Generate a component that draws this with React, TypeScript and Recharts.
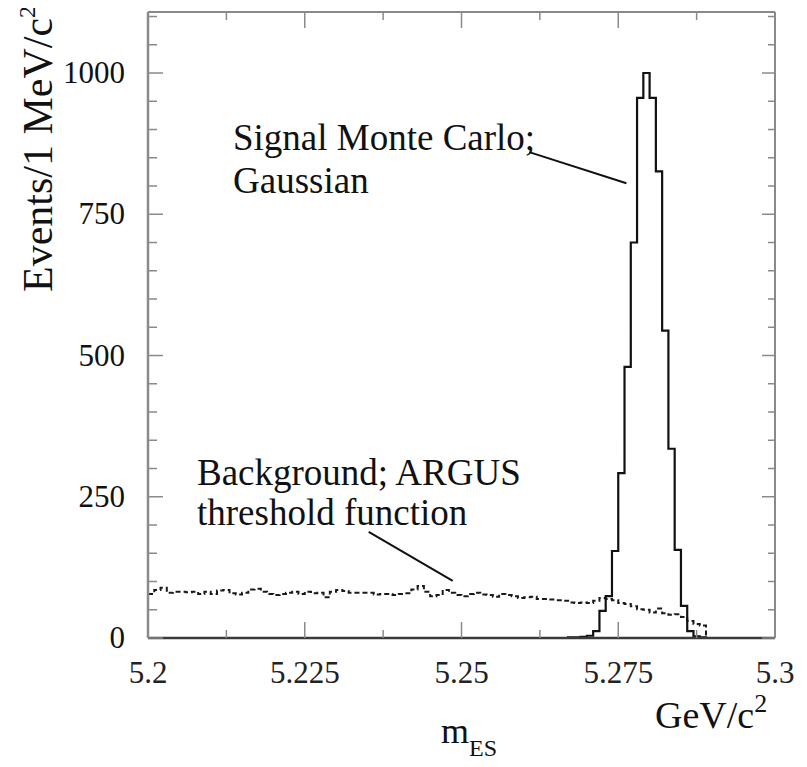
import React from "react";
import { ComposedChart, Line, XAxis, YAxis, ReferenceLine } from "recharts";

// ---- data ----
const X_MIN = 5.2;
const BIN_WIDTH = 0.001;
const N_BINS = 100;

// Signal Monte Carlo (Gaussian) counts, starting at bin index SIGNAL_START
const SIGNAL_START = 66;
const signalCounts = [0, 1, 1, 2, 4, 12, 48, 74, 154, 292, 480, 700, 956, 1000, 956, 826, 544, 335, 156, 57, 12, 3, 1, 0];

// Background (ARGUS threshold) counts, from bin 0 up to the endpoint
const backgroundCounts = [
  78, 85, 89, 80, 82, 82, 81, 82, 78, 82,
  78, 84, 85, 79, 77, 80, 86, 87, 82, 78,
  76, 78, 80, 82, 78, 82, 79, 80, 72, 82,
  85, 83, 80, 80, 80, 80, 77, 78, 78, 76,
  78, 79, 86, 92, 82, 74, 76, 85, 80, 76,
  74, 78, 80, 77, 76, 73, 78, 76, 74, 71,
  72, 73, 69, 69, 68, 67, 66, 63, 62, 63,
  62, 66, 71, 69, 67, 62, 60, 56, 51, 50,
  45, 52, 44, 41, 42, 37, 30, 25, 22,
];

const xMajorTicks = [5.2, 5.225, 5.25, 5.275, 5.3];
const xTickLabels = ["5.2", "5.225", "5.25", "5.275", "5.3"];
const xMinorTicks = [5.2125, 5.2375, 5.2625, 5.2875];
const yMajorTicks = [0, 250, 500, 750, 1000];
const yTickLabels = ["0", "250", "500", "750", "1000"];
const yMinorTicks = [50, 100, 150, 200, 300, 350, 400, 450, 550, 600, 650, 700, 800, 850, 900, 950, 1050, 1100];

const Y_MAX = 1108;

const rows: { x: number; sig: number; bg: number | null }[] = [];
for (let k = 0; k <= N_BINS; k++) {
  const x = Number((X_MIN + k * BIN_WIDTH).toFixed(4));
  const si = Math.min(k, N_BINS - 1) - SIGNAL_START;
  const sig = si >= 0 && si < signalCounts.length ? signalCounts[si] : 0;
  let bg: number | null = null;
  if (k < backgroundCounts.length) bg = backgroundCounts[k];
  else if (k === backgroundCounts.length) bg = 0;
  rows.push({ x, sig, bg });
}

const allXTicks = [...xMajorTicks, ...xMinorTicks].sort((a, b) => a - b);
const allYTicks = [...yMajorTicks, ...yMinorTicks].sort((a, b) => a - b);

const FONT = "'Liberation Serif', 'Times New Roman', serif";
const TICK_COLOR = "#8a8a8a";

const majorXIndex = (v: number) => xMajorTicks.findIndex((t) => Math.abs(t - v) < 1e-6);
const majorYIndex = (v: number) => yMajorTicks.findIndex((t) => Math.abs(t - v) < 1e-6);

const BottomTick = (props: any) => {
  const { x, y, payload } = props;
  const i = majorXIndex(payload.value);
  const len = i >= 0 ? 16 : 8;
  return (
    <g>
      <line x1={x} y1={y} x2={x} y2={y - len} stroke={TICK_COLOR} strokeWidth={1.5} />
      {i >= 0 && (
        <text x={x} y={y + 45} textAnchor="middle" style={{ fontFamily: FONT }} fontSize={31} fill="#222">
          {xTickLabels[i]}
        </text>
      )}
    </g>
  );
};

const TopTick = (props: any) => {
  const { x, y, payload } = props;
  const i = majorXIndex(payload.value);
  const len = i >= 0 ? 16 : 8;
  return <line x1={x} y1={y} x2={x} y2={y + len} stroke={TICK_COLOR} strokeWidth={1.5} />;
};

const LeftTick = (props: any) => {
  const { x, y, payload } = props;
  const i = majorYIndex(payload.value);
  const len = i >= 0 ? 15 : 9;
  return (
    <g>
      <line x1={x} y1={y} x2={x + len} y2={y} stroke={TICK_COLOR} strokeWidth={1.5} />
      {i >= 0 && (
        <text x={x - 23} y={y + 10} textAnchor="end" style={{ fontFamily: FONT }} fontSize={31} fill="#111">
          {yTickLabels[i]}
        </text>
      )}
    </g>
  );
};

const RightTick = (props: any) => {
  const { x, y, payload } = props;
  const i = majorYIndex(payload.value);
  const len = i >= 0 ? 13 : 7;
  return <line x1={x} y1={y} x2={x - len} y2={y} stroke={TICK_COLOR} strokeWidth={1.5} />;
};

export default function App() {
  const W = 799;
  const H = 751;
  return (
    <div style={{ position: "relative", width: W, height: H }}>
      <ComposedChart
        width={W}
        height={H}
        data={rows}
        margin={{ top: 3, right: 22, bottom: 71, left: 40 }}
      >
        <XAxis
          xAxisId="b"
          dataKey="x"
          type="number"
          domain={[5.2, 5.3]}
          allowDataOverflow
          ticks={allXTicks}
          interval={0}
          tick={<BottomTick />}
          tickLine={false}
          tickSize={0}
          tickMargin={0}
          height={50}
          axisLine={{ stroke: "#3a3a3a", strokeWidth: 2.5 }}
        />
        <XAxis
          xAxisId="t"
          orientation="top"
          dataKey="x"
          type="number"
          domain={[5.2, 5.3]}
          allowDataOverflow
          ticks={allXTicks}
          interval={0}
          tick={<TopTick />}
          tickLine={false}
          tickSize={0}
          tickMargin={0}
          height={1}
          axisLine={{ stroke: "#8a8a8a", strokeWidth: 2 }}
        />
        <YAxis
          yAxisId="l"
          type="number"
          domain={[0, Y_MAX]}
          allowDataOverflow
          ticks={allYTicks}
          interval={0}
          tick={<LeftTick />}
          tickLine={false}
          tickSize={0}
          tickMargin={0}
          width={100}
          axisLine={{ stroke: "#8a8a8a", strokeWidth: 2.5 }}
        />
        <YAxis
          yAxisId="r"
          orientation="right"
          type="number"
          domain={[0, Y_MAX]}
          allowDataOverflow
          ticks={allYTicks}
          interval={0}
          tick={<RightTick />}
          tickLine={false}
          tickSize={0}
          tickMargin={0}
          width={10}
          axisLine={{ stroke: "#8a8a8a", strokeWidth: 2 }}
        />
        <Line
          xAxisId="b"
          yAxisId="l"
          dataKey="bg"
          type="stepAfter"
          stroke="#1a1a1a"
          strokeWidth={2}
          strokeDasharray="5 3"
          dot={false}
          connectNulls={false}
          isAnimationActive={false}
        />
        <Line
          xAxisId="b"
          yAxisId="l"
          dataKey="sig"
          type="stepAfter"
          stroke="#111"
          strokeWidth={2.2}
          dot={false}
          isAnimationActive={false}
        />
        <ReferenceLine
          xAxisId="b"
          yAxisId="l"
          segment={[{ x: 5.2608, y: 860 }, { x: 5.2763, y: 805 }]}
          stroke="#111"
          strokeWidth={2}
          ifOverflow="visible"
        />
        <ReferenceLine
          xAxisId="b"
          yAxisId="l"
          segment={[{ x: 5.2352, y: 188 }, { x: 5.2486, y: 101 }]}
          stroke="#111"
          strokeWidth={2}
          ifOverflow="visible"
        />
      </ComposedChart>
      <svg
        width={W}
        height={759}
        style={{ position: "absolute", left: 0, top: 0, pointerEvents: "none", overflow: "visible" }}
      >
        <g style={{ fontFamily: FONT }} fill="#111">
          <text x={225} y={142} fontSize={37}>Signal Monte Carlo;</text>
          <text x={225} y={185} fontSize={37}>Gaussian</text>
          <text x={189} y={477} fontSize={37}>Background; ARGUS</text>
          <text x={189} y={517} fontSize={37}>threshold function</text>
          <text x={647} y={720} fontSize={38}>
            GeV/c
            <tspan fontSize={26} dy={-16}>2</tspan>
          </text>
          <text x={433} y={735} fontSize={36}>
            m
            <tspan fontSize={24} dy={13}>ES</tspan>
          </text>
          <text x={44} y={284} fontSize={42} transform="rotate(-90 44 284)">
            Events/1 MeV/c
            <tspan fontSize={24} dy={-17}>2</tspan>
          </text>
        </g>
      </svg>
    </div>
  );
}
